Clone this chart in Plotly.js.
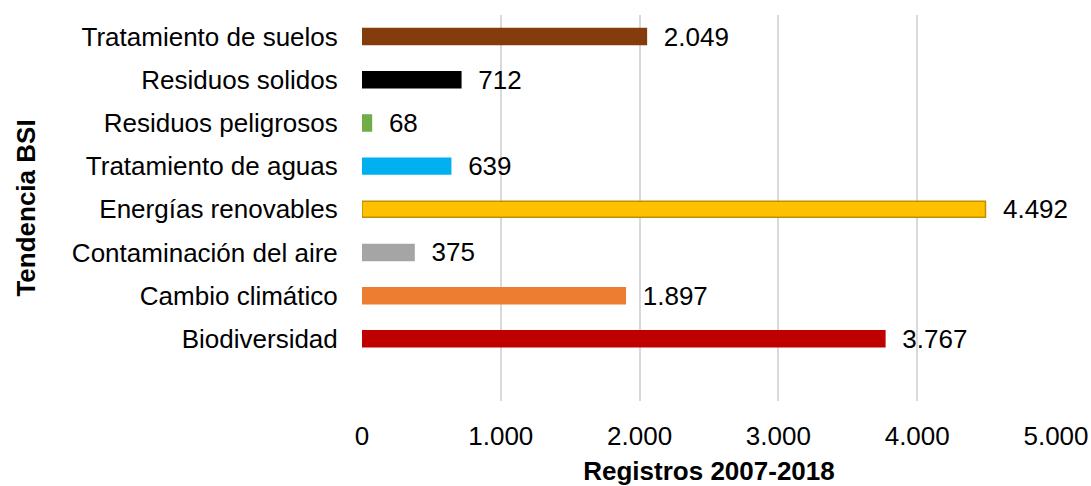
<!DOCTYPE html>
<html>
<head>
<meta charset="utf-8">
<script src="https://cdn.plot.ly/plotly-3.0.1.min.js"></script>
<style>html,body{margin:0;padding:0;background:#fff}#chart{width:1091px;height:486px}</style>
</head>
<body>
<div id="chart"></div>
<script>
const categories = ["Biodiversidad", "Cambio climático", "Contaminación del aire", "Energías renovables", "Tratamiento de aguas", "Residuos peligrosos", "Residuos solidos", "Tratamiento de suelos"];
const values = [3767, 1897, 375, 4492, 639, 68, 712, 2049];
const barColors = ["#c00000", "#ed7d31", "#a5a5a5", "#ffc000", "#00b0f0", "#70ad47", "#000000", "#843c0c"];
const lineColors = ["#c00000", "#ed7d31", "#a5a5a5", "#bf9000", "#00b0f0", "#70ad47", "#000000", "#843c0c"];
const xTicks = [0, 1000, 2000, 3000, 4000, 5000];
const xTickLabels = ["0", "1.000", "2.000", "3.000", "4.000", "5.000"];

const font = "Liberation Sans, Arial, sans-serif";
const fs = 26;

Plotly.newPlot("chart", [{
  type: "bar",
  orientation: "h",
  x: values,
  y: categories.map((c, i) => i),
  width: 0.37,
  marker: {color: barColors, line: {color: lineColors, width: 1.5}},
  texttemplate: "  %{x:,}",
  textposition: "outside",
  constraintext: "none",
  cliponaxis: false,
  textfont: {family: font, size: fs, color: "#000"},
  hoverinfo: "none"
}], {
  width: 1091, height: 486,
  margin: {l: 362, r: 35, t: 15, b: 85},
  paper_bgcolor: "#fff", plot_bgcolor: "#fff",
  separators: ",.",
  showlegend: false,
  font: {family: font, size: fs, color: "#000"},
  xaxis: {
    range: [0, 5000],
    tickvals: xTicks, ticktext: xTickLabels,
    showgrid: true, gridcolor: "#d9d9d9", gridwidth: 2,
    zeroline: false, showline: false,
    ticks: "outside", ticklen: 12, tickcolor: "rgba(0,0,0,0)",
    tickfont: {family: font, size: fs, color: "#000"},
    title: {text: "Registros 2007-2018", font: {family: font, size: fs, color: "#000", weight: "bold"}, standoff: 14}
  },
  yaxis: {
    range: [-1.44, 7.5],
    tickvals: categories.map((c, i) => i), ticktext: categories,
    showgrid: false, zeroline: false, showline: false,
    ticks: "outside", ticklen: 18, tickcolor: "rgba(0,0,0,0)",
    tickfont: {family: font, size: fs, color: "#000"},
    title: {text: "Tendencia BSI", font: {family: font, size: fs, color: "#000", weight: "bold"}, standoff: 28}
  },
  bargap: 0.6
}, {displayModeBar: false, staticPlot: true});
</script>
</body>
</html>
